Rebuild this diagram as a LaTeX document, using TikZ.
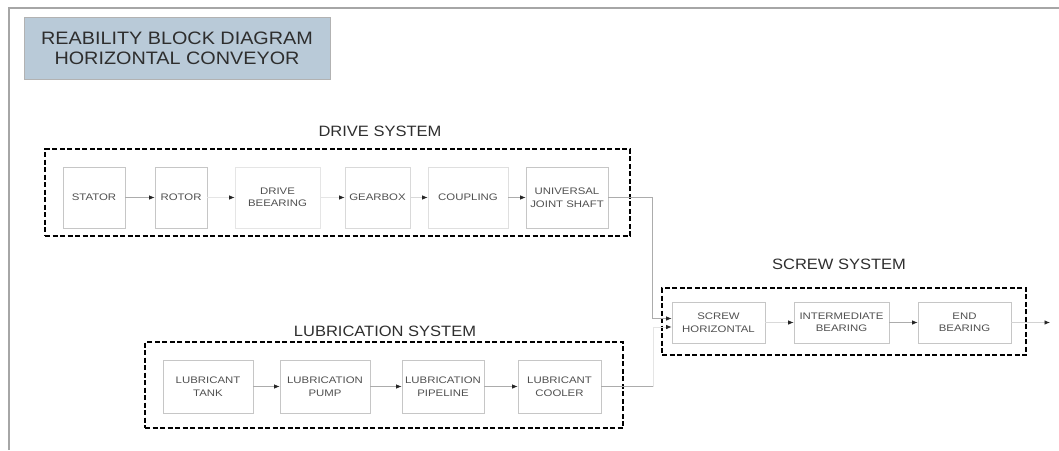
\documentclass[tikz,border=0pt]{standalone}
\usepackage{fontspec}
\setmainfont{Liberation Sans}
\newfontfamily\titlefont[FakeStretch=1.1]{Liberation Sans}
\newfontfamily\boxfont[FakeStretch=1.2]{Liberation Sans}
\usetikzlibrary{arrows.meta}
\definecolor{titlefill}{HTML}{B9CAD8}
\definecolor{txtdark}{HTML}{2E2E2E}
\definecolor{txtbox}{HTML}{505050}
\tikzset{
  blk/.style={draw=gray!45, line width=0.8pt, rectangle, align=center,
    text=txtbox, font=\boxfont\fontsize{9.5}{12.5}\selectfont, inner sep=0pt},
  sysbox/.style={draw=black, line width=2.4pt, dash pattern=on 5pt off 2.5pt,
    rectangle, inner sep=0pt},
  syslabel/.style={text=txtdark, font=\titlefont\fontsize{15}{18}\selectfont, inner sep=0pt},
  conn/.style={draw=gray!65, line width=0.7pt, -{Latex[length=5.5pt,width=4.5pt,black!85]}},
  wire/.style={draw=gray!65, line width=0.7pt},
  frameline/.style={draw=gray!70, line width=1.6pt}
}
\begin{document}
\begin{tikzpicture}[x=1pt,y=-1pt]
\useasboundingbox (0,0) rectangle (1059,450);
% frame
\coordinate (fa) at (9,450);
\coordinate (fb) at (9,8);
\coordinate (fc) at (1059,8);
\draw[frameline] (fa) -- (fb) -- (fc);
% title
\node[draw=gray!60, line width=0.6pt, fill=titlefill, minimum width=306pt, minimum height=62pt,
  align=center, text=txtdark, font=\titlefont\fontsize{18}{20}\selectfont, inner sep=0pt]
  (title) at (177,48) {REABILITY BLOCK DIAGRAM\\HORIZONTAL CONVEYOR};

% system frames
\node[sysbox, minimum width=585pt, minimum height=87pt] (drivebox) at (337.5,192.5) {};
\node[sysbox, minimum width=478pt, minimum height=86pt] (lubebox) at (384,385) {};
\node[sysbox, minimum width=364pt, minimum height=67pt] (screwbox) at (844,321.5) {};

% system labels
\node[syslabel] (drivelbl) at (380,131) {DRIVE SYSTEM};
\node[syslabel] (lubelbl) at (385,331) {LUBRICATION SYSTEM};
\node[syslabel] (screwlbl) at (839,264) {SCREW SYSTEM};

% drive blocks
\node[blk, minimum width=62pt, minimum height=61pt] (stator) at (94,197.5) {STATOR};
\node[blk, minimum width=52pt, minimum height=61pt] (rotor) at (181,197.5) {ROTOR};
\node[blk, draw=gray!20, minimum width=85pt, minimum height=61pt] (dbear) at (277.5,197.5) {DRIVE\\BEEARING};
\node[blk, draw=gray!30, minimum width=65pt, minimum height=61pt] (gear) at (377.5,197.5) {GEARBOX};
\node[blk, draw=gray!25, minimum width=80pt, minimum height=61pt] (coup) at (468,197.5) {COUPLING};
\node[blk, minimum width=82pt, minimum height=61pt] (ujs) at (567,197.5) {UNIVERSAL\\JOINT SHAFT};

% lubrication blocks
\node[blk, minimum width=90pt, minimum height=53pt] (tank) at (208,386.5) {LUBRICANT\\TANK};
\node[blk, minimum width=90pt, minimum height=53pt] (pump) at (325,386.5) {LUBRICATION\\PUMP};
\node[blk, minimum width=82pt, minimum height=53pt] (pipe) at (443,386.5) {LUBRICATION\\PIPELINE};
\node[blk, minimum width=83pt, minimum height=53pt] (cool) at (559.5,386.5) {LUBRICANT\\COOLER};

% screw blocks
\node[blk, minimum width=93pt, minimum height=41pt] (sh) at (718.5,322.5) {SCREW\\HORIZONTAL};
\node[blk, minimum width=95pt, minimum height=41pt] (ib) at (841.5,322.5) {INTERMEDIATE\\BEARING};
\node[blk, minimum width=93pt, minimum height=41pt] (eb) at (964.5,322.5) {END\\BEARING};

% connectors
\draw[conn] (stator) -- (rotor);
\draw[conn, draw=gray!20] (rotor) -- (dbear);
\draw[conn, draw=gray!20] (dbear) -- (gear);
\draw[conn, draw=gray!30] (gear) -- (coup);
\draw[conn] (coup) -- (ujs);

\draw[conn] (tank) -- (pump);
\draw[conn] (pump) -- (pipe);
\draw[conn] (pipe) -- (cool);

\draw[conn, draw=gray!30] (sh) -- (ib);
\draw[conn] (ib) -- (eb);
\coordinate (out) at (1050,322.5);
\draw[conn, draw=gray!35] (eb) -- (out);

\coordinate (jd) at (652,197.5);
\coordinate (jl) at (653,386.5);
\draw[conn] (ujs.east) -- (jd) |- ([yshift=4pt]sh.west);
\draw[wire] (cool.east) -- (jl);
\draw[conn, draw=gray!20] (jl) |- ([yshift=-4.5pt]sh.west);
\end{tikzpicture}
\end{document}
